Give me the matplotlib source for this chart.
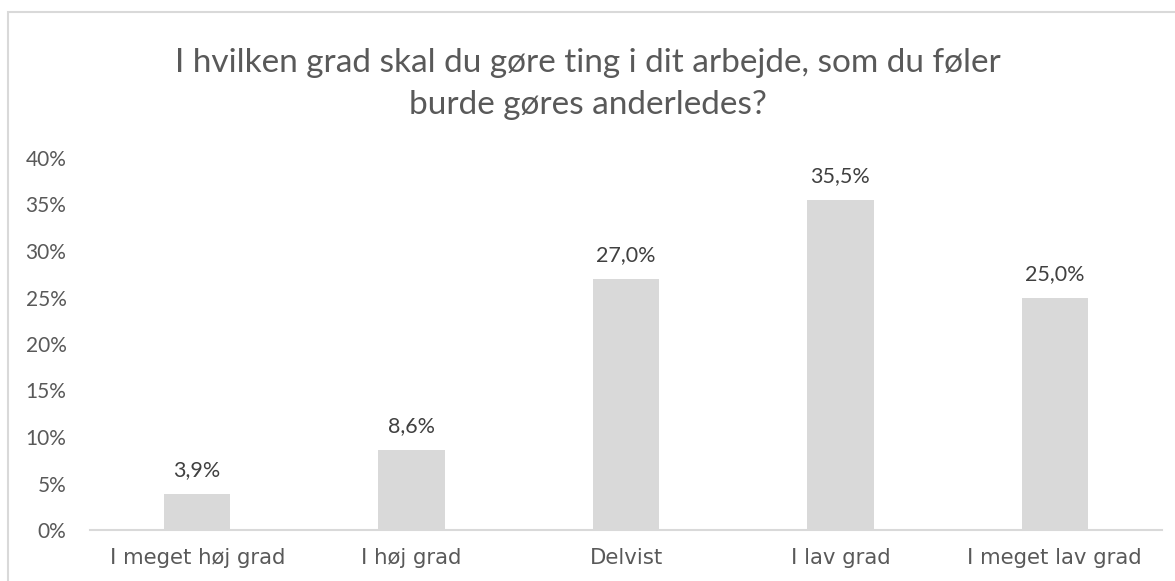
import matplotlib.pyplot as plt
from matplotlib.patches import Rectangle

categories = ['I meget høj grad', 'I høj grad', 'Delvist', 'I lav grad', 'I meget lav grad']
values = [3.9, 8.6, 27.0, 35.5, 25.0]
value_labels = ['3,9%', '8,6%', '27,0%', '35,5%', '25,0%']
yticks = [0, 5, 10, 15, 20, 25, 30, 35, 40]
title = 'I hvilken grad skal du gøre ting i dit arbejde, som du føler\nburde gøres anderledes?'

fig = plt.figure(figsize=(11.75, 5.81), dpi=100)
# ramme rundt om diagrammet
fig.patches.append(Rectangle((8 / 1175, -0.1), 1.2, 1 - 12.5 / 581 + 0.1,
                             transform=fig.transFigure, fill=False,
                             edgecolor='#d9d9d9', linewidth=1.5))

ax = fig.add_axes([90 / 1175, 51 / 581, (1162 - 90) / 1175, 372 / 581])
x = range(len(categories))
ax.bar(x, values, width=0.31, color='#d9d9d9')

for xi, v, lab in zip(x, values, value_labels):
    ax.annotate(lab, (xi, v), xytext=(0, 17), textcoords='offset points',
                ha='center', va='center', fontsize=15.5, family='Lato',
                color='#404040')

ax.set_xlim(-0.5, 4.5)
ax.set_ylim(0, 40)
ax.set_yticks(yticks)
ax.set_yticklabels([f'{t}%' for t in yticks], family='Lato', fontsize=15,
                   color='#595959')
ax.set_xticks(list(x))
ax.set_xticklabels(categories, family='DejaVu Sans', fontsize=15.3,
                   color='#595959')
ax.tick_params(axis='both', length=0)
ax.tick_params(axis='x', pad=13)
ax.tick_params(axis='y', pad=17)
for s in ['top', 'right', 'left']:
    ax.spines[s].set_visible(False)
ax.spines['bottom'].set_color('#d9d9d9')
ax.spines['bottom'].set_linewidth(1.5)

fig.text(0.5, 1 - 84 / 581, title, ha='center', va='center', fontsize=24,
         family='Lato', color='#595959', linespacing=1.47)

plt.savefig('out.png', dpi=100)
